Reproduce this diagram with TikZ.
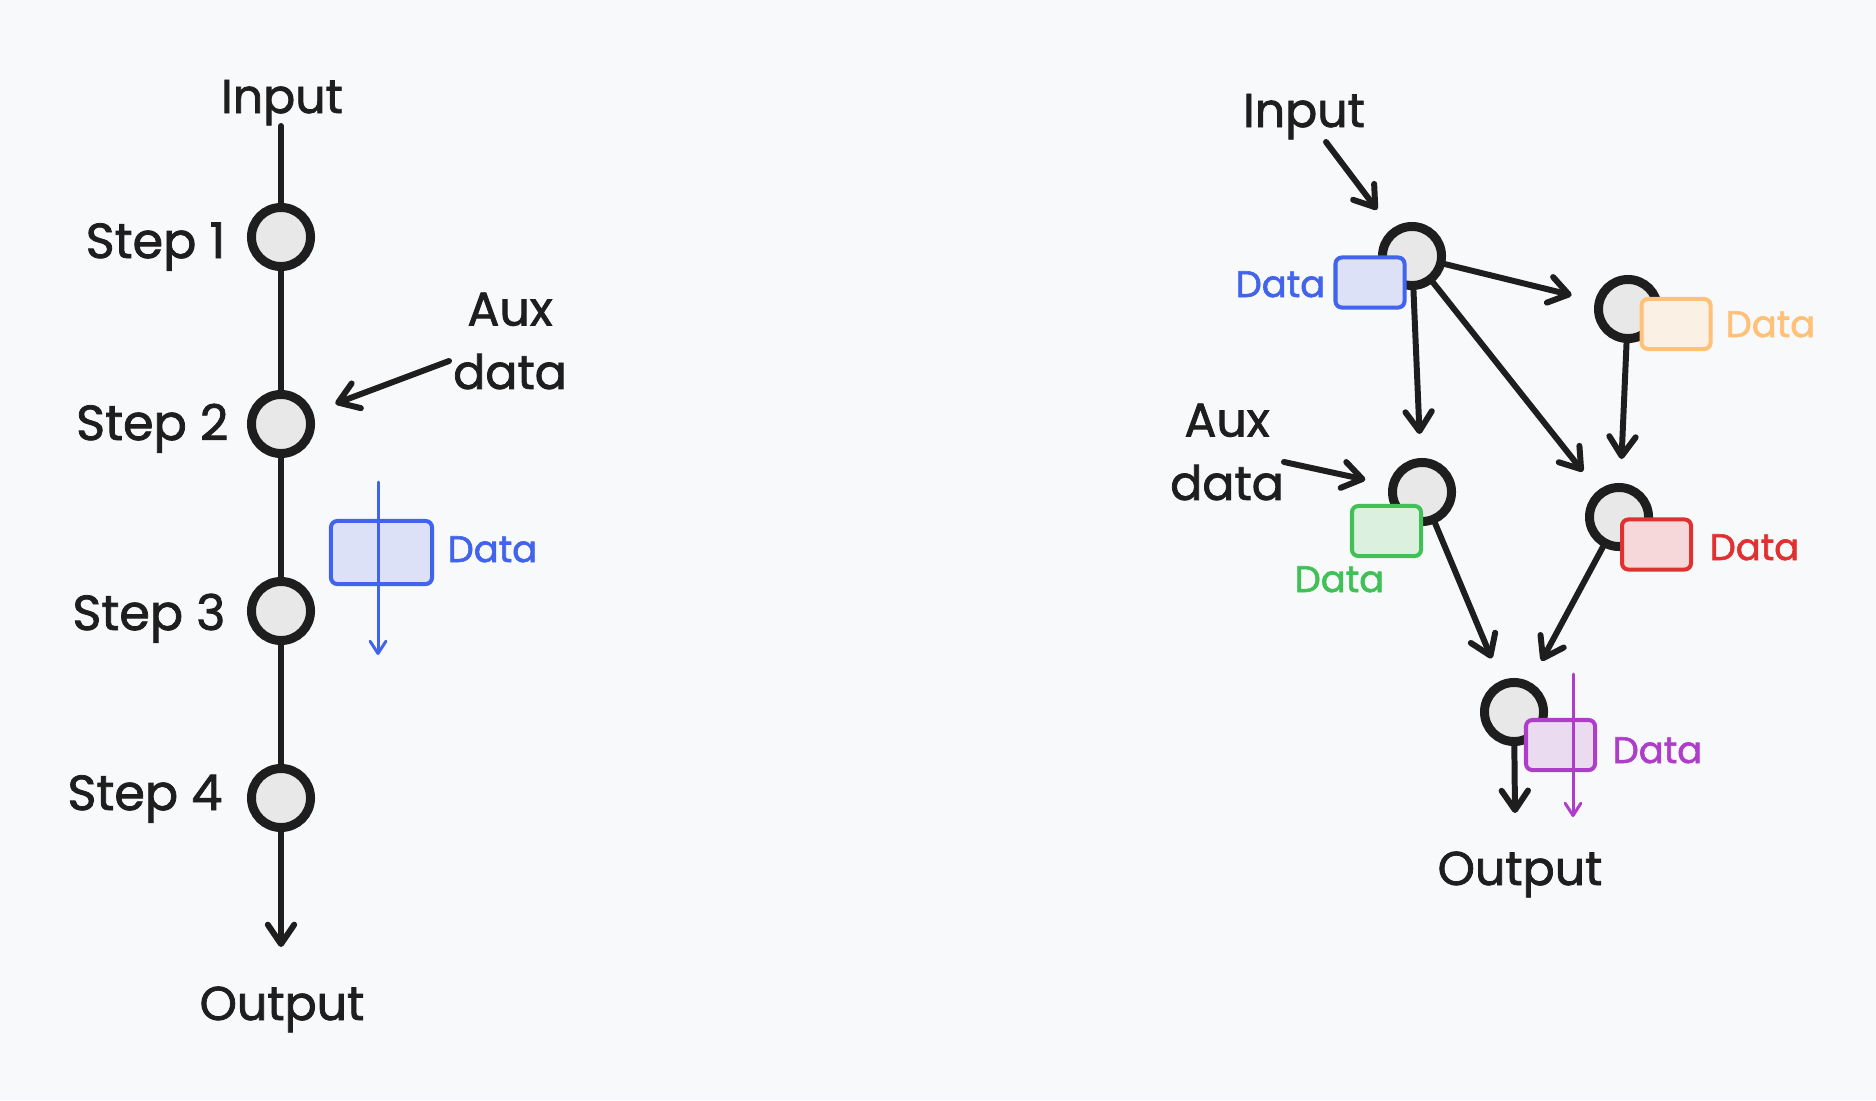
\documentclass[tikz,border=0pt]{standalone}
\usepackage{fontspec}
\setmainfont{Poppins}[FakeBold=1.6]
\usetikzlibrary{arrows.meta}
\definecolor{ink}{HTML}{1E1E1E}
\definecolor{bg}{HTML}{F8F9FB}
\definecolor{cfill}{HTML}{E8E8E8}
\definecolor{dblue}{HTML}{4263EB}
\definecolor{dbluefill}{HTML}{DCE1F7}
\definecolor{dorange}{HTML}{FFC078}
\definecolor{dorangefill}{HTML}{FBF0E4}
\definecolor{dgreen}{HTML}{40C057}
\definecolor{dgreenfill}{HTML}{DCF0E0}
\definecolor{dred}{HTML}{E03131}
\definecolor{dredfill}{HTML}{F6D8DA}
\definecolor{dpurple}{HTML}{AE3EC9}
\definecolor{dpurplefill}{HTML}{EBDBF1}
\tikzset{
  stepnode/.style={circle, draw=ink, fill=cfill, line width=2.56pt, minimum size=0.59cm, inner sep=0pt},
  databox/.style={rounded corners=1.8pt, line width=1.14pt, minimum width=0.69cm, minimum height=0.50cm, inner sep=0pt, draw=#1, fill=#1fill},
  link/.style={draw=ink, line width=1.7pt, line cap=round},
  arr/.style={link, -{Straight Barb[length=5.5pt,width=7.5pt,round]}, shorten >=0.24cm},
  thinarr/.style={line width=0.85pt, line cap=round, -{Straight Barb[length=3.5pt,width=4.5pt,round]}},
  lbl/.style={text=ink, font=\fontsize{13.5}{18}\selectfont, inner sep=0pt},
  steplbl/.style={text=ink, font=\fontsize{14}{18}\selectfont, inner sep=0pt},
  datalbl/.style={font=\fontsize{10.5}{13}\selectfont, inner sep=0pt},
}
\begin{document}
\begin{tikzpicture}[x=0.01cm,y=-0.01cm]
\fill[bg] (0,0) rectangle (1876,1100);
\useasboundingbox (0,0) rectangle (1876,1100);

% ---------- left: sequential ----------
\node[lbl, anchor=base] (inL) at (282,113) {Input};
\node[stepnode] (s1) at (281,237) {};
\node[stepnode] (s2) at (281,424) {};
\node[stepnode] (s3) at (281,611) {};
\node[stepnode] (s4) at (281,798) {};
\node[steplbl, anchor=base east] (l1) at (226,258) {Step 1};
\node[steplbl, anchor=base east] (l2) at (229,440) {Step 2};
\node[steplbl, anchor=base east] (l3) at (226,630) {Step 3};
\node[steplbl, anchor=base east] (l4) at (223,810) {Step 4};
\coordinate (inLend) at (281,126);
\draw[link] (inLend) -- (s1);
\draw[link] (s1) -- (s2);
\draw[link] (s2) -- (s3);
\draw[link] (s3) -- (s4);
\coordinate (outLtip) at (281,947);
\draw[arr, shorten >=0pt] (s4) -- (outLtip);
\node[lbl, anchor=base] (outL) at (282,1020) {Output};
\node[lbl, align=center] (auxL) at (510,341) {Aux\\data};
\coordinate (auxLs) at (449,361);
\draw[arr] (auxLs) -- (s2);
\node[databox=dblue, minimum width=1.01cm, minimum height=0.63cm] (bL) at (381.5,552.5) {};
\node[datalbl, text=dblue, anchor=base west] (dL) at (447,562) {Data};
\coordinate (tLtop) at (378,482);
\coordinate (tLbot) at (378,655);
\draw[thinarr, dblue] (tLtop) -- (tLbot);

% ---------- right: graph ----------
\node[lbl, anchor=base] (inR) at (1304,127) {Input};
\node[stepnode] (n1) at (1412,256) {};
\node[stepnode] (n2) at (1628,309) {};
\node[stepnode] (n3) at (1422,492) {};
\node[stepnode] (n4) at (1619,517) {};
\node[stepnode] (n5) at (1514,712) {};
\coordinate (inRs) at (1326,142);
\draw[arr] (inRs) -- (n1);
\draw[arr] (n1) -- (n2);
\draw[arr] (n1) -- (n3);
\draw[arr] (n1) -- (n4);
\draw[arr] (n2) -- (n4);
\draw[arr] (n3) -- (n5);
\draw[arr] (n4) -- (n5);
\node[lbl, align=center] (auxR) at (1227,452) {Aux\\data};
\coordinate (auxRs) at (1284,462);
\draw[arr] (auxRs) -- (n3);
\coordinate (outRtip) at (1515,813);
\draw[arr, shorten >=0pt] (n5) -- (outRtip);
\node[lbl, anchor=base] (outR) at (1520,885) {Output};

\node[databox=dblue] (b1) at (1370,282.5) {};
\node[datalbl, text=dblue, anchor=base west] (d1) at (1235,297) {Data};
\node[databox=dorange] (b2) at (1676,324) {};
\node[datalbl, text=dorange, anchor=base west] (d2) at (1725,337) {Data};
\node[databox=dgreen] (b3) at (1386.5,531) {};
\node[datalbl, text=dgreen, anchor=base west] (d3) at (1294,592) {Data};
\node[databox=dred] (b4) at (1656.5,544.5) {};
\node[datalbl, text=dred, anchor=base west] (d4) at (1709,560) {Data};
\node[databox=dpurple] (b5) at (1560.5,745) {};
\node[datalbl, text=dpurple, anchor=base west] (d5) at (1612,763) {Data};
\coordinate (tRtop) at (1573,674);
\coordinate (tRbot) at (1573,817);
\draw[thinarr, dpurple] (tRtop) -- (tRbot);
\end{tikzpicture}
\end{document}
